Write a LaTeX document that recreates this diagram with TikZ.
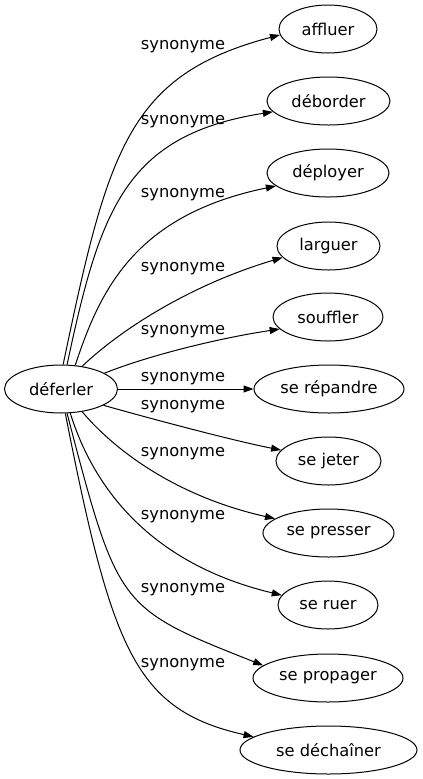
\documentclass[tikz,border=0pt]{standalone}
\usepackage{fontspec}
\setmainfont{DejaVu Sans}
\usetikzlibrary{shapes.geometric,arrows.meta}

\begin{document}
\begin{tikzpicture}[x=0.75pt,y=0.75pt,yscale=-1,xscale=1,
		word/.style={draw, ellipse, line width=0.75pt, minimum height=36pt, inner sep=0pt, font=\fontsize{12.2pt}{14pt}\selectfont},
		rel/.style={line width=0.75pt, -{Triangle[length=7.5pt,width=5.25pt]}},
		rellabel/.style={inner sep=0pt, font=\fontsize{12.2pt}{14pt}\selectfont}]
		\useasboundingbox (0,0) rectangle (422,779);
		% words
		\draw (61,389) node [word, minimum width=84.75pt] (deferler) {déferler};
		\draw (328,29) node [word, minimum width=73.5pt] (affluer) {affluer};
		\draw (328.5,101) node [word, minimum width=92.25pt] (deborder) {déborder};
		\draw (328,173) node [word, minimum width=91.5pt] (deployer) {déployer};
		\draw (328.5,246) node [word, minimum width=77.25pt] (larguer) {larguer};
		\draw (328,317) node [word, minimum width=82.5pt] (souffler) {souffler};
		\draw (329,389) node [word, minimum width=112.5pt] (serepandre) {se répandre};
		\draw (328.5,461) node [word, minimum width=78.75pt] (sejeter) {se jeter};
		\draw (328.5,533) node [word, minimum width=98.25pt] (sepresser) {se presser};
		\draw (328,605) node [word, minimum width=75pt] (seruer) {se ruer};
		\draw (328,678) node [word, minimum width=112.5pt] (sepropager) {se propager};
		\draw (328.5,750) node [word, minimum width=132.75pt] (sedechainer) {se déchaîner};
		% links
		\draw [rel] (deferler.85) .. controls (108,150) and (128,75) .. (affluer.187);
		\draw [rel] (deferler.76) .. controls (100,210) and (125,135) .. (deborder.191);
		\draw [rel] (deferler.59) .. controls (100,290) and (135,215) .. (deployer.194);
		\draw [rel] (deferler.47) .. controls (120,330) and (190,285) .. (larguer.194);
		\draw [rel] (deferler.20) .. controls (150,355) and (220,338) .. (souffler.194);
		\draw [rel] (deferler) -- (serepandre);
		\draw [rel] (deferler.-21) .. controls (145,417) and (230,440) .. (sejeter.167);
		\draw [rel] (deferler.-47) .. controls (110,445) and (170,495) .. (sepresser.165);
		\draw [rel] (deferler.-69) .. controls (88,470) and (135,560) .. (seruer.168);
		\draw [rel] (deferler.-76) .. controls (118,608) and (118,608) .. (sepropager.169);
		\draw [rel] (deferler.-80) .. controls (112,650) and (135,710) .. (sedechainer.170);
		% labels
		\draw (183,46.7) node [rellabel] (syn1) {synonyme};
		\draw (183,121.7) node [rellabel] (syn2) {synonyme};
		\draw (183,195) node [rellabel] (syn3) {synonyme};
		\draw (183,268.3) node [rellabel] (syn4) {synonyme};
		\draw (183,331.7) node [rellabel] (syn5) {synonyme};
		\draw (183,378.3) node [rellabel] (syn6) {synonyme};
		\draw (183,406.7) node [rellabel] (syn7) {synonyme};
		\draw (183,453.3) node [rellabel] (syn8) {synonyme};
		\draw (183,516.7) node [rellabel] (syn9) {synonyme};
		\draw (183,590) node [rellabel] (syn10) {synonyme};
		\draw (183,665) node [rellabel] (syn11) {synonyme};
\end{tikzpicture}
\end{document}
